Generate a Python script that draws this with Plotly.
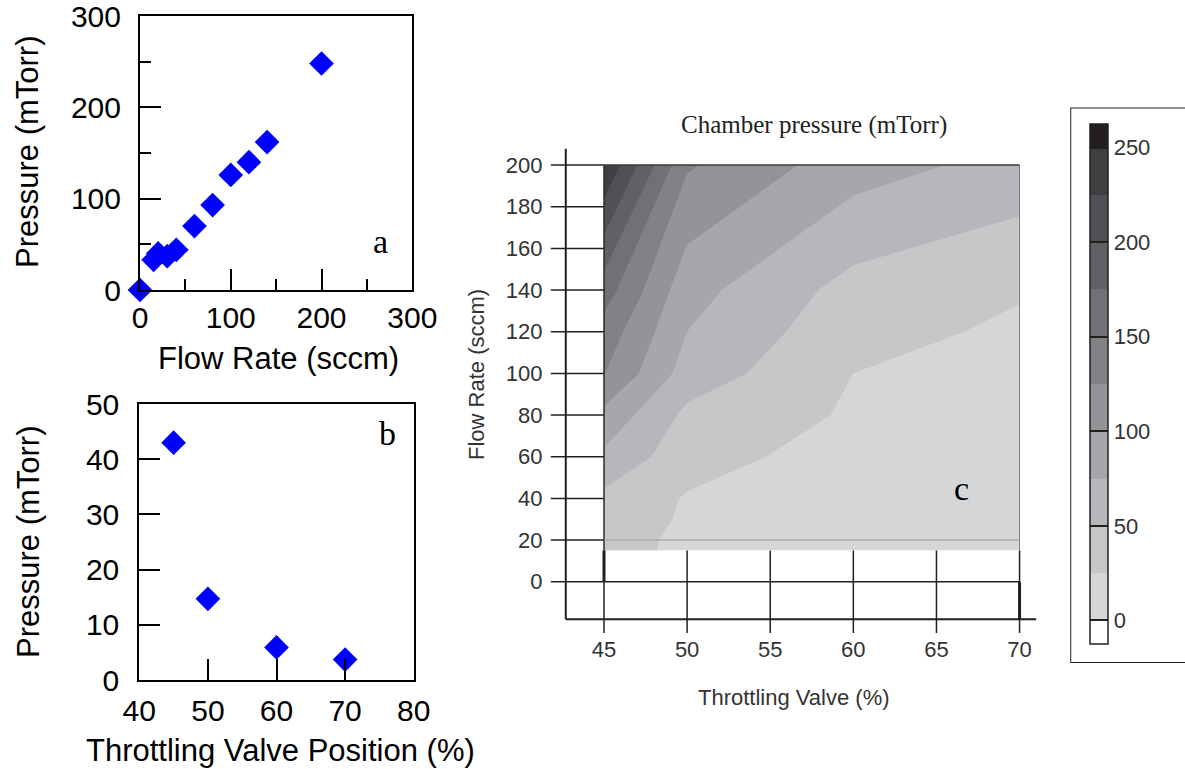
import plotly.graph_objects as go

# ---------------- data ----------------
# (a) chamber pressure vs. flow rate
flow_a = [0, 15, 20, 30, 40, 60, 80, 100, 120, 140, 200]
pressure_a = [0, 33, 40, 37, 44, 70, 93, 126, 140, 162, 248]

# (b) chamber pressure vs. throttling valve position
valve_b = [45, 50, 60, 70]
pressure_b = [43, 14.7, 5.9, 3.7]

# (c) pressure map: rows = flow rate, columns = valve position
valve_c = [45, 50, 60, 70]
flow_c = [15, 20, 30, 40, 60, 80, 100, 120, 140, 200]
pressure_c = [
    [33, 20.5, 3, 1.5],
    [40, 17.3, 4, 2],
    [37, 22.4, 5, 3],
    [44, 23, 6, 3.7],
    [70, 35, 14, 6],
    [93, 44, 22, 10],
    [126, 64, 25, 16],
    [140, 75, 33, 21],
    [162, 84, 41, 27],
    [248, 128, 86, 66],
]

# tick values
a_major = [0, 100, 200, 300]
a_minor = [50, 150, 250]
b_xticks = [40, 50, 60, 70, 80]
b_yticks = [0, 10, 20, 30, 40, 50]
c_xticks = [45, 50, 55, 60, 65, 70]
c_yticks = [0, 20, 40, 60, 80, 100, 120, 140, 160, 180, 200]
cbar_ticks = [0, 50, 100, 150, 200, 250]

# contour levels and fill colours (below start, each band, above end)
level_start, level_end, level_step = 0, 250, 25
band_colors = [
    "#ffffff",
    "#d5d6d8", "#c6c7c9", "#b6b7ba", "#a6a7aa", "#939497",
    "#818285", "#707174", "#606164", "#505154", "#3f3f42",
    "#231f20",
]

# ---------------- styling ----------------
SANS = "Liberation Sans, Arial, Helvetica, sans-serif"
SERIF = "Liberation Serif, Times New Roman, serif"
INK = "#231f20"
W, H = 1185, 769

n = len(band_colors) - 1
colorscale = []
for i, c in enumerate(band_colors):
    lo = max(0.0, (i - 0.5) / n)
    hi = min(1.0, (i + 0.5) / n)
    colorscale += [[lo, c], [hi, c]]

fig = go.Figure()

marker = dict(symbol="diamond", size=19, color="#0000ff", line=dict(width=0))

fig.add_trace(go.Scatter(x=flow_a, y=pressure_a, mode="markers", marker=marker,
                         xaxis="x", yaxis="y", cliponaxis=False, showlegend=False))
fig.add_trace(go.Scatter(x=valve_b, y=pressure_b, mode="markers", marker=marker,
                         xaxis="x2", yaxis="y2", cliponaxis=False, showlegend=False))

fig.add_trace(go.Contour(
    x=valve_c, y=flow_c, z=pressure_c,
    xaxis="x3", yaxis="y3",
    autocontour=False,
    contours=dict(start=level_start, end=level_end, size=level_step,
                  coloring="fill", showlines=False),
    line=dict(width=0, smoothing=0),
    colorscale=colorscale,
    colorbar=dict(
        x=1072 / W, xanchor="left", y=(H - 384) / H, yanchor="middle",
        len=552, lenmode="pixels", thickness=18, thicknessmode="pixels",
        xpad=18, ypad=16,
        borderwidth=1, bordercolor=INK,
        outlinewidth=1.5, outlinecolor=INK,
        tickmode="array", tickvals=cbar_ticks,
        ticks="inside", ticklen=18, tickwidth=1.5, tickcolor=INK,
        tickprefix="\u00a0",
        tickfont=dict(family=SANS, size=22, color="#333333"),
    ),
    hoverinfo="skip",
))


def frame_axis(domain, rng, ticks, minor=None, standoff=6):
    ax = dict(
        domain=domain, range=rng, showline=True, linewidth=2, linecolor="black",
        mirror=True, showgrid=False, zeroline=False, automargin=False,
        tickmode="array", tickvals=ticks, ticks="inside", ticklen=21,
        tickwidth=2, tickcolor="black", ticklabeloverflow="allow",
        tickfont=dict(family=SANS, size=30, color="black"),
        ticklabelstandoff=standoff, fixedrange=True,
    )
    if minor:
        ax["minor"] = dict(tickmode="array", tickvals=minor, ticks="inside",
                           ticklen=11, tickwidth=2, tickcolor="black")
    return ax


def px_x(a, b):
    return [a / W, b / W]


def px_y(top, bottom):
    return [(H - bottom) / H, (H - top) / H]


layout_axes = dict(
    xaxis=dict(frame_axis(px_x(140, 412.3), [0, 300], a_major, a_minor, 0), anchor="y"),
    yaxis=dict(frame_axis(px_y(16, 290), [0, 300], a_major, a_minor, 11), anchor="x"),
    xaxis2=dict(frame_axis(px_x(139.3, 413.7), [40, 80], b_xticks, None, 3), anchor="y2"),
    yaxis2=dict(frame_axis(px_y(404, 680), [0, 50], b_yticks, None, 12), anchor="x2"),
    xaxis3=dict(domain=px_x(547.5, 1039.5), range=[41.6, 71.2], anchor="y3",
                showline=False, showgrid=False, zeroline=False, ticks="", automargin=False,
                tickmode="array", tickvals=c_xticks, ticklabelstandoff=0,
                tickfont=dict(family=SANS, size=22, color="#333333"), fixedrange=True),
    yaxis3=dict(domain=px_y(148.4, 633.8), range=[-25, 208], anchor="x3",
                showline=False, showgrid=False, zeroline=False, ticks="", automargin=False,
                tickmode="array", tickvals=c_yticks, ticklabelstandoff=4,
                tickfont=dict(family=SANS, size=22, color="#333333"), fixedrange=True),
)

# ---- line work of panel c (axis frame, tick lines, data frame) ----
AX_X, AX_Y = 42.7, -18.0      # left / bottom axis positions
TICK_X, TICK_Y = 41.8, -24.6  # outer ends of the tick lines
TOP_Y, RIGHT_X = 208, 71.0

shapes = []


def seg(x0, y0, x1, y1, width=1.5, color=INK):
    shapes.append(dict(type="line", xref="x3", yref="y3", x0=x0, y0=y0, x1=x1, y1=y1,
                       line=dict(color=color, width=width), layer="above"))


seg(AX_X, AX_Y, AX_X, TOP_Y, 2)
seg(AX_X, AX_Y, RIGHT_X, AX_Y, 2)
for yt in c_yticks:
    seg(TICK_X, yt, c_xticks[-1] if yt == 0 else valve_c[0], yt, 1.5)
for xt in c_xticks:
    seg(xt, TICK_Y, xt, flow_c[0], 1.5)
seg(c_xticks[0], 0, c_xticks[0], flow_c[0], 3)
seg(c_xticks[-1], AX_Y, c_xticks[-1], 0, 3)
# edges of the mapped region
seg(valve_c[0], flow_c[0], valve_c[0], flow_c[-1], 1.5, "#2a2a2a")
seg(valve_c[0], flow_c[-1], valve_c[-1], flow_c[-1], 1.5, "#3a3a3a")
seg(valve_c[-1], flow_c[0], valve_c[-1], flow_c[-1], 1, "#7a7a7a")
seg(valve_c[0], c_yticks[1], valve_c[-1], c_yticks[1], 1, "#9c9c9c")

# ---- text ----
ann = []


def label(text, x, y, size, angle=0, font=SANS, xref="paper", yref="paper", color="black"):
    ann.append(dict(text=text, x=x, y=y, xref=xref, yref=yref, showarrow=False,
                    xanchor="center", yanchor="middle", textangle=angle,
                    font=dict(family=font, size=size, color=color)))


label("Flow Rate (sccm)", 278 / W, (H - 359) / H, 31)
label("Pressure (mTorr)", 28 / W, (H - 152) / H, 31, -90)
label("Pressure (mTorr)", 28 / W, (H - 542) / H, 31, -90)
label("Throttling Valve Position (%)", 280 / W, (H - 750) / H, 31)
label("Flow Rate (sccm)", 476 / W, (H - 375) / H, 22, -90, color="#333333")
label("Throttling Valve (%)", 794 / W, (H - 697) / H, 22, color="#333333")
label("Chamber pressure (mTorr)", 814 / W, (H - 125) / H, 25, font=SERIF, color="#222222")
label("a", 265, 53, 34, font=SERIF, xref="x", yref="y")
label("b", 76.2, 44.7, 34, font=SERIF, xref="x2", yref="y2")
label("c", 66.5, 44.8, 34, font=SERIF, xref="x3", yref="y3")

fig.update_layout(
    width=W, height=H, autosize=False,
    margin=dict(l=0, r=0, t=0, b=0, autoexpand=False),
    paper_bgcolor="white", plot_bgcolor="white",
    showlegend=False,
    shapes=shapes, annotations=ann,
    **layout_axes,
)

fig.write_html("out.html")
